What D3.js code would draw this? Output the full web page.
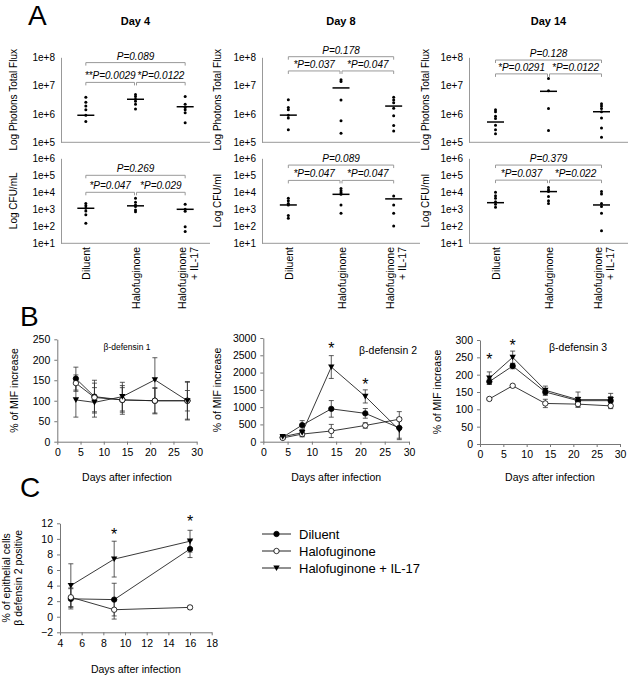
<!DOCTYPE html>
<html><head><meta charset="utf-8">
<script src="https://cdn.jsdelivr.net/npm/d3@7"></script>
<style>
body{margin:0;background:#fff}
text{font-family:"Liberation Sans",Arial,sans-serif;fill:#000}
</style></head><body>
<svg id="c" width="632" height="678"></svg>
<script>
// ---------------- DATA ----------------
const groups = ["Diluent", "Halofuginone", "Halofuginone|+ IL-17"];
const dayTitles = ["Day 4", "Day 8", "Day 14"];
const fluxTicks = [1e5, 1e6, 1e7, 1e8];
const cfuTicks = [1e1, 1e2, 1e3, 1e4, 1e5, 1e6];

// Panel A - photon flux (dots per group) and mean bars
const fluxDay4 = [[3.9e6, 2.6e6, 1.9e6, 1.4e6, 9e5, 5.4e5], [4.9e6, 4.1e6, 3.3e6, 2.8e6, 2.2e6, 1.5e6], [4.1e6, 2.2e6, 1.7e6, 1.4e6, 1.1e6, 4.9e5]];
const fluxDay8 = [[3.2e6, 1.7e6, 1.4e6, 9e5, 7.2e5, 2.8e5], [1.6e7, 1.4e7, 3.1e6, 5.8e5, 2.1e5], [3.9e6, 3.1e6, 2.5e6, 1.6e6, 8.7e5, 3.9e5, 2.5e5]];
const fluxDay14 = [[1.4e6, 1.2e6, 8.3e5, 6.9e5, 4e5, 2.8e5, 2e5], [1.8e7, 6.6e6, 1.55e6, 2.6e5], [2.3e6, 1.9e6, 1.55e6, 1.2e6, 7.2e5, 3.2e5, 1.5e5]];
const fluxMeans = [[9e5, 3.3e6, 1.8e6], [9.1e5, 8.3e6, 1.9e6], [5.2e5, 6.3e6, 1.2e6]];
// Panel A - CFU
const cfuDay4 = [[2.2e3, 1.6e3, 1.15e3, 8e2, 4.7e2, 1.5e2], [4.5e3, 2.6e3, 1.8e3, 1.45e3, 9e2, 7.2e2], [2e3, 1e3, 7.6e2, 9.5e1, 4.9e1]];
const cfuDay8 = [[4.5e3, 3.2e3, 2.2e3, 1.8e3, 4.3e2, 3e2], [1.7e4, 1.25e4, 9.5e3, 7.6e3, 1.8e3, 5.8e2], [6e3, 1.8e3, 5.8e2, 1.05e2]];
const cfuDay14 = [[1e4, 6.3e3, 4.5e3, 2.8e3, 2e3, 1.3e3], [1.9e4, 1.4e4, 1.1e4, 5.6e3, 3.2e3, 2.2e3], [1.1e4, 8e3, 2.2e3, 1.45e3, 5.8e2, 5.4e1]];
const cfuMeans = [[1.15e3, 1.6e3, 1e3], [1.8e3, 7.6e3, 4.1e3], [2.45e3, 1.1e4, 1.8e3]];
// P values: [overall, left pair, right pair]
const fluxP = [["P=0.089", "**P=0.0029", "*P=0.0122"], ["P=0.178", "*P=0.037", "*P=0.047"], ["P=0.128", "*P=0.0291", "*P=0.0122"]];
const cfuP = [["P=0.269", "*P=0.047", "*P=0.029"], ["P=0.089", "*P=0.047", "*P=0.047"], ["P=0.379", "*P=0.037", "*P=0.022"]];
// bracket levels (data units): [overall, pairs]
const fluxBracket = [[6.5e7, 1.3e7], [1.05e8, 3.3e7], [8e7, 2.6e7]];
const cfuBracket = [[1e5, 1e4], [4e5, 5e4], [4e5, 5.2e4]];

// Panel B - beta-defensin MIF
const b1Days = [4, 8, 14, 21, 28];
const b1Diluent = [154, 110, 102, 100, 100], b1DiluentErr = [28, 40, 35, 30, 47];
const b1Halo = [143, 108, 102, 100, 100], b1HaloErr = [20, 35, 30, 32, 25];
const b1IL17 = [102, 96, 110, 151, 100], b1IL17Err = [42, 36, 35, 54, 45];
const b2Days = [4, 8, 14, 21, 28];
const b2Diluent = [130, 480, 950, 820, 400], b2DiluentErr = [50, 130, 240, 140, 300];
const b2Halo = [110, 220, 310, 470, 650], b2HaloErr = [30, 80, 190, 80, 220];
const b2IL17 = [145, 260, 2160, 1310, 340], b2IL17Err = [40, 100, 330, 190, 280];
const b3Days = [2, 7, 14, 21, 28];
const b3Diluent = [180, 225, 150, 125, 125], b3DiluentErr = [8, 8, 10, 10, 12];
const b3Halo = [130, 168, 117, 115, 110], b3HaloErr = [3, 3, 12, 8, 8];
const b3IL17 = [190, 250, 155, 128, 128], b3IL17Err = [18, 18, 12, 22, 18];
const b2Stars = [[14, 2770], [21, 1735]];
const b3Stars = [[2, 252], [7, 292]];

// Panel C
const cDays = [5, 9, 16];
const cDiluent = [2.3, 2.2, 8.7], cDiluentErr = [1.3, 2.1, 1.1];
const cHalo = [2.5, 0.9, 1.2], cHaloErr = [1.2, 1.2, 0.2];
const cIL17 = [4.0, 7.4, 9.7], cIL17Err = [2.8, 2.3, 1.4];
const cStars = [[9, 10.9], [16, 12.6]];
const legendLabels = ["Diluent", "Halofuginone", "Halofuginone + IL-17"];

// ---------------- DRAW ----------------
const svg = d3.select("#c");
const gray = "#999";

function letter(t, x, y) {
  svg.append("text").attr("x", x).attr("y", y).attr("font-size", 28).text(t);
}
letter("A", 28, 25); letter("B", 20, 326); letter("C", 20, 497);

const aPanels = [
  {x0: 61, x1: 210, title: dayTitles[0], flux: fluxDay4, cfu: cfuDay4, cfuLabel: "Log CFU/mL", ylx: 13},
  {x0: 262, x1: 420, title: dayTitles[1], flux: fluxDay8, cfu: cfuDay8, cfuLabel: "Log CFU/ml", ylx: 217},
  {x0: 469, x1: 628, title: dayTitles[2], flux: fluxDay14, cfu: cfuDay14, cfuLabel: "Log CFU/ml", ylx: 425}
];

function scatter(p, i, data, means, ticks, domain, yTop, yBot, pv, br, ylab) {
  const x = d3.scaleBand().domain(groups).range([p.x0, p.x1]);
  const y = d3.scaleLog().domain(domain).range([yBot, yTop]);
  const g = svg.append("g");
  const ya = g.append("g").attr("transform", `translate(${p.x0},0)`)
    .call(d3.axisLeft(y).tickValues(ticks).tickSize(0).tickPadding(6)
      .tickFormat(d => "1e+" + Math.round(Math.log10(d))));
  ya.select(".domain").attr("stroke", gray);
  ya.selectAll("text").attr("font-size", 10).attr("font-family", "Liberation Sans, Arial");
  g.append("line").attr("x1", p.x0).attr("x2", p.x1).attr("y1", yBot).attr("y2", yBot).attr("stroke", gray);
  g.append("text").attr("transform", `translate(${p.ylx + 4},${(yTop + yBot) / 2}) rotate(-90)`)
    .attr("text-anchor", "middle").attr("font-size", 10).text(ylab);
  groups.forEach((gr, k) => {
    const cx = x(gr) + x.bandwidth() / 2;
    g.selectAll(null).data(data[k]).enter().append("circle")
      .attr("cx", cx).attr("cy", d => y(d)).attr("r", 1.5).attr("fill", "#000");
    g.append("line").attr("x1", cx - 8.5).attr("x2", cx + 8.5)
      .attr("y1", y(means[k])).attr("y2", y(means[k])).attr("stroke", "#000").attr("stroke-width", 1.5);
  });
  const c = groups.map(gr => x(gr) + x.bandwidth() / 2);
  function bracket(xa, xb, yv, label) {
    const yy = y(yv);
    g.append("path").attr("d", `M${xa},${yy + 3}V${yy}H${xb}V${yy + 3}`)
      .attr("fill", "none").attr("stroke", gray);
    g.append("text").attr("x", (xa + xb) / 2).attr("y", yy - 3).attr("text-anchor", "middle")
      .attr("font-size", 10).attr("font-style", "italic").text(label);
  }
  bracket(c[0], c[2], br[0], pv[0]);
  bracket(c[0], c[1] - 1, br[1], pv[1]);
  bracket(c[1] + 1, c[2], br[1], pv[2]);
  return {x, c};
}

aPanels.forEach((p, i) => {
  svg.append("text").attr("x", (p.x0 + p.x1) / 2).attr("y", 25).attr("text-anchor", "middle")
    .attr("font-size", 11).attr("font-weight", "bold").text(p.title);
  scatter(p, i, p.flux, fluxMeans[i], fluxTicks, [1e5, 1e8], 57.3, 142.3, fluxP[i], fluxBracket[i], "Log Photons Total Flux");
  const r = scatter(p, i, p.cfu, cfuMeans[i], cfuTicks, [1e1, 1e6], 158.3, 243.3, cfuP[i], cfuBracket[i], p.cfuLabel);
  groups.forEach((gr, k) => {
    const lines = gr.split("|");
    const cx = r.c[k];
    lines.forEach((ln, j) => {
      const off = lines.length === 1 ? 4.5 : (j === 0 ? 0.5 : 12.5);
      svg.append("text").attr("transform", `translate(${cx + off},247) rotate(-90)`)
        .attr("text-anchor", "end").attr("font-size", 10.5).text(ln);
    });
  });
});

function marker(g, type, cx, cy) {
  if (type === "tri") {
    g.append("path").attr("d", `M${cx - 3.2},${cy - 2.6}L${cx + 3.2},${cy - 2.6}L${cx},${cy + 3}Z`).attr("fill", "#000");
  } else {
    g.append("circle").attr("cx", cx).attr("cy", cy).attr("r", 2.7)
      .attr("fill", type === "open" ? "#fff" : "#000").attr("stroke", "#000").attr("stroke-width", 0.8);
  }
}

function lineChart(o) {
  const x = d3.scaleLinear().domain(o.xd).range([o.x0, o.x1]);
  const y = d3.scaleLinear().domain(o.yd).range([o.yb, o.yt]);
  const g = svg.append("g");
  const xa = g.append("g").attr("transform", `translate(0,${o.yb})`)
    .call(d3.axisBottom(x).tickValues(o.xt).tickSize(3).tickSizeOuter(0).tickPadding(4).tickFormat(d3.format("d")));
  const ya = g.append("g").attr("transform", `translate(${o.x0},0)`)
    .call(d3.axisLeft(y).tickValues(o.yt2).tickSize(3).tickSizeOuter(0).tickPadding(4).tickFormat(d3.format("d")));
  [xa, ya].forEach(a => {
    a.select(".domain").attr("stroke", "#777");
    a.selectAll(".tick line").attr("stroke", "#777");
    a.selectAll("text").attr("font-size", 10.5).attr("font-family", "Liberation Sans, Arial").attr("fill", "#000");
  });
  const lineGen = d3.line().x(d => x(d[0])).y(d => y(d[1]));
  o.series.forEach(s => {
    const pts = o.days.map((d, k) => [d, s.v[k]]);
    g.append("path").attr("d", lineGen(pts)).attr("fill", "none").attr("stroke", "#222").attr("stroke-width", 0.9);
  });
  o.series.forEach(s => {
    o.days.forEach((d, k) => {
      const cx = x(d), ya1 = y(s.v[k] + s.e[k]), ya2 = y(s.v[k] - s.e[k]);
      g.append("path").attr("d", `M${cx},${ya1}V${ya2}M${cx - 2.5},${ya1}H${cx + 2.5}M${cx - 2.5},${ya2}H${cx + 2.5}`)
        .attr("stroke", "#333").attr("stroke-width", 0.8).attr("fill", "none");
    });
  });
  o.series.forEach(s => {
    o.days.forEach((d, k) => marker(g, s.m, x(d), y(s.v[k])));
  });
  (o.stars || []).forEach(st => {
    g.append("text").attr("x", x(st[0])).attr("y", y(st[1]) + 8).attr("text-anchor", "middle")
      .attr("font-size", 16).text("*");
  });
  if (o.label) g.append("text").attr("x", o.label[0]).attr("y", o.label[1]).attr("text-anchor", "middle")
    .attr("font-size", o.label[3]).text(o.label[2]);
  g.append("text").attr("x", (o.x0 + o.x1) / 2).attr("y", o.xtY).attr("text-anchor", "middle").attr("font-size", 10.5).text("Days after infection");
  o.ylab.forEach((t, j) => {
    g.append("text").attr("transform", `translate(${o.ylx[j]},${(o.yt + o.yb) / 2}) rotate(-90)`)
      .attr("text-anchor", "middle").attr("font-size", 10.5).text(t);
  });
}

lineChart({x0: 57.3, x1: 196.7, yb: 441.7, yt: 339.3, xd: [0, 30], yd: [0, 250], xt: d3.range(0, 31, 5), yt2: d3.range(0, 251, 50),
  days: b1Days, series: [{v: b1Diluent, e: b1DiluentErr, m: "fill"}, {v: b1Halo, e: b1HaloErr, m: "open"}, {v: b1IL17, e: b1IL17Err, m: "tri"}],
  label: [127, 350, "β-defensin 1", 8.5], xtY: 481, ylab: ["% of MIF increase"], ylx: [18]});
lineChart({x0: 263.3, x1: 409, yb: 441.7, yt: 338, xd: [0, 30], yd: [0, 3000], xt: d3.range(0, 31, 5), yt2: d3.range(0, 3001, 500),
  days: b2Days, series: [{v: b2Diluent, e: b2DiluentErr, m: "fill"}, {v: b2Halo, e: b2HaloErr, m: "open"}, {v: b2IL17, e: b2IL17Err, m: "tri"}],
  stars: b2Stars, label: [388, 354, "β-defensin 2", 10.5], xtY: 481, ylab: ["% of MIF increase"], ylx: [221]});
lineChart({x0: 480, x1: 620, yb: 444, yt: 340, xd: [0, 30], yd: [0, 300], xt: d3.range(0, 31, 5), yt2: d3.range(0, 301, 50),
  days: b3Days, series: [{v: b3Diluent, e: b3DiluentErr, m: "fill"}, {v: b3Halo, e: b3HaloErr, m: "open"}, {v: b3IL17, e: b3IL17Err, m: "tri"}],
  stars: b3Stars, label: [578, 351, "β-defensin 3", 10.5], xtY: 481, ylab: ["% of MIF increase"], ylx: [441]});
lineChart({x0: 60, x1: 211.7, yb: 632.3, yt: 523.3, xd: [4, 18], yd: [-2, 12], xt: d3.range(4, 19, 2), yt2: d3.range(-2, 13, 2),
  days: cDays, series: [{v: cDiluent, e: cDiluentErr, m: "fill"}, {v: cHalo, e: cHaloErr, m: "open"}, {v: cIL17, e: cIL17Err, m: "tri"}],
  stars: cStars, xtY: 673, ylab: ["% of epithelial cells", "β defensin 2 positive"], ylx: [10, 22]});

const lg = svg.append("g");
["fill", "open", "tri"].forEach((m, k) => {
  const yy = 534 + k * 17;
  lg.append("line").attr("x1", 262).attr("x2", 291).attr("y1", yy).attr("y2", yy).attr("stroke", "#222");
  marker(lg, m, 276.5, yy);
  lg.append("text").attr("x", 299).attr("y", yy + 4.5).attr("font-size", 13).text(legendLabels[k]);
});
</script></body></html>
